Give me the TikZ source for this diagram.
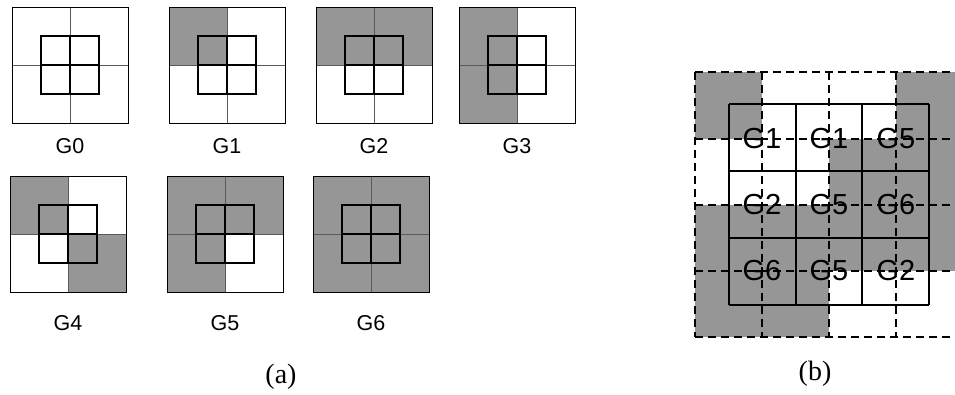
\documentclass[tikz,border=0pt]{standalone}
\usepackage{fontspec}
\setmainfont{Liberation Serif}
\newfontfamily\arialf{Liberation Sans}
\definecolor{sh}{RGB}{150,150,150}
\definecolor{divc}{RGB}{90,90,90}
\tikzset{
  divline/.style={draw=divc,line width=0.9pt},
  outline/.style={draw=black,line width=1pt},
  innerbox/.style={draw=black,line width=2.8pt},
  glabel/.style={font=\arialf\fontsize{21.5}{24}\selectfont,inner sep=0pt},
  blabel/.style={font=\arialf\fontsize{29}{31}\selectfont,inner sep=0pt},
  caption/.style={font=\fontsize{28}{30}\selectfont,inner sep=0pt},
  dgrid/.style={draw=black,line width=1.3pt,dash pattern=on 8pt off 5pt},
  sgrid/.style={draw=black,line width=2.2pt},
}
\newcommand\gbox[6]{%
  \fill[#3] (#1,#2) rectangle ++(58,58);
  \fill[#4] (#1+58,#2) rectangle ++(58,58);
  \fill[#5] (#1,#2+58) rectangle ++(58,58);
  \fill[#6] (#1+58,#2+58) rectangle ++(58,58);
  \draw[divline] (#1+58,#2) -- ++(0,116) (#1,#2+58) -- ++(116,0);
  \draw[outline] (#1,#2) rectangle ++(116,116);
  \draw[innerbox] (#1+29,#2+29) rectangle ++(58,58) (#1+58,#2+29) -- ++(0,58) (#1+29,#2+58) -- ++(58,0);
}
\begin{document}
\begin{tikzpicture}[x=1pt,y=-1pt]
\useasboundingbox (0,0) rectangle (955,394);
\fill[white] (0,0) rectangle (955,394);
% ---- part (a)
\gbox{12}{7}{white}{white}{white}{white}
\gbox{169}{7}{sh}{white}{white}{white}
\gbox{316}{7}{sh}{sh}{white}{white}
\gbox{459}{7}{sh}{white}{sh}{white}
\gbox{10}{176}{sh}{white}{white}{sh}
\gbox{167}{176}{sh}{sh}{sh}{white}
\gbox{313}{176}{sh}{sh}{sh}{sh}
\node[glabel] (l0) at (70,146) {G0};
\node[glabel] (l1) at (227,146) {G1};
\node[glabel] (l2) at (374,146) {G2};
\node[glabel] (l3) at (517,146) {G3};
\node[glabel] (l4) at (68,323) {G4};
\node[glabel] (l5) at (225,323) {G5};
\node[glabel] (l6) at (371,323) {G6};
\node[caption] (ca) at (281,377) {(a)};
% ---- part (b)
\begin{scope}
\clip (0,0) rectangle (955,394);
\fill[sh] (695,72) rectangle (762,139);
\fill[sh] (896,72) rectangle (963,139);
\fill[sh] (829,139) rectangle (963,205);
\fill[sh] (695,205) rectangle (963,271);
\fill[sh] (695,271) rectangle (829,337);
\foreach \x in {695,762,829,896}
  \draw[dgrid] (\x,72) -- (\x,337);
\foreach \y in {72,139,205,271,337}
  \draw[dgrid] (695,\y) -- (963,\y);
\end{scope}
\foreach \x in {729,796,862,929}
  \draw[sgrid] (\x,104) -- (\x,305);
\foreach \y in {104,171,238,305}
  \draw[sgrid] (729,\y) -- (929,\y);
\node[blabel] (b11) at (762,139) {G1};
\node[blabel] (b12) at (829,139) {G1};
\node[blabel] (b13) at (896,139) {G5};
\node[blabel] (b21) at (762,205) {G2};
\node[blabel] (b22) at (829,205) {G5};
\node[blabel] (b23) at (896,205) {G6};
\node[blabel] (b31) at (762,271) {G6};
\node[blabel] (b32) at (829,271) {G5};
\node[blabel] (b33) at (896,271) {G2};
\node[caption] (cb) at (815,374) {(b)};
\end{tikzpicture}
\end{document}
